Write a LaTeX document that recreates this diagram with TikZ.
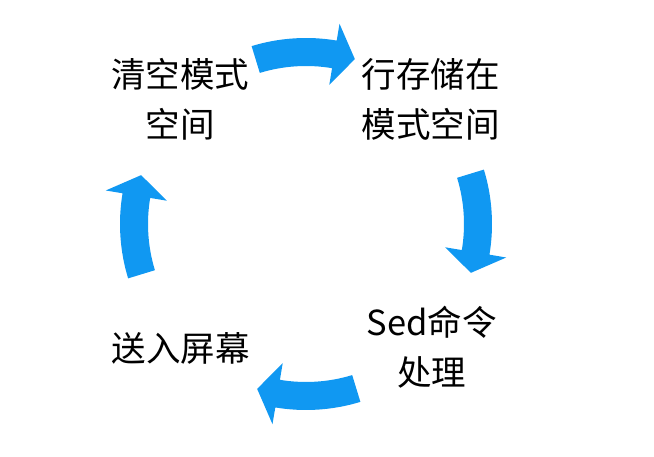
\documentclass[tikz,border=0pt]{standalone}
\usepackage{fontspec}
\setmainfont{Noto Sans CJK SC}
\definecolor{cycleblue}{RGB}{16,152,242}
\tikzset{
  lbl/.style={font=\fontsize{34.5}{50}\selectfont, align=center, inner sep=0pt, text=black},
  cyclearrow/.style={fill=cycleblue, draw=none}
}
% #1 tail angle, #2 head-base angle, #3 tip angle
\newcommand{\cyclearr}[3]{%
  \fill[cyclearrow, shift={(ctr)}]
    (#1:158) -- (#1:186) arc[start angle=#1, end angle=#2, radius=186]
    -- (#2:203) -- (#3:172) -- (#2:141) -- (#2:158)
    arc[start angle=#2, end angle=#1, radius=158] -- cycle;}
\begin{document}
\begin{tikzpicture}[x=1pt,y=1pt]
\useasboundingbox[fill=white] (0,0) rectangle (654,457);
\coordinate (ctr) at (306,233);
\node[lbl] (clear) at (180,358) {清空模式\\空间};
\node[lbl] (store) at (430.5,358) {行存储在\\模式空间};
\node[lbl] (sed)   at (431.5,109.5) {Sed命令\\处理};
\node[lbl] (screen) at (180.5,108.5) {送入屏幕};
\cyclearr{107}{80.5}{73.5}
\cyclearr{17}{-9.5}{-16.5}
\cyclearr{-73}{-99.5}{-106.5}
\cyclearr{197}{170.5}{163.5}
\end{tikzpicture}
\end{document}
